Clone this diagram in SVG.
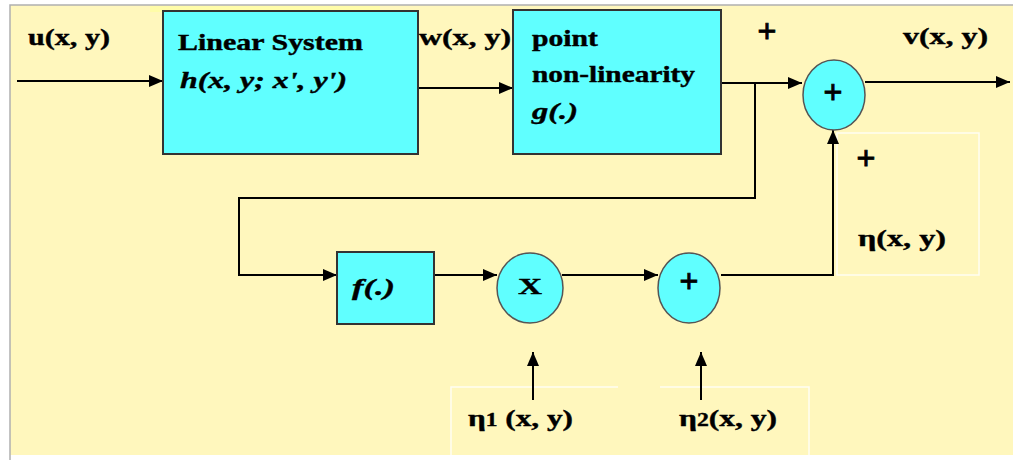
<svg xmlns="http://www.w3.org/2000/svg" width="1013" height="460" viewBox="0 0 1013 460">
<defs>
<marker id="arr" markerUnits="userSpaceOnUse" markerWidth="14" markerHeight="12" refX="14" refY="6" orient="auto">
<path d="M0,0 L14,6 L0,12 z" fill="#000"/>
</marker>
<style>
.bg{fill:#FFF7BD}
.box{fill:#60FFFF;stroke:#333;stroke-width:2}
.circ{fill:#60FFFF;stroke:#555;stroke-width:1.5}
.faint{fill:none;stroke:#FFFEF2;stroke-width:1.5}
.ln{fill:none;stroke:#000;stroke-width:2;marker-end:url(#arr)}
text{font-family:"Liberation Serif","Times New Roman",serif;font-weight:bold;font-size:24px;fill:#000;stroke:#000;stroke-width:0.4}
.it{font-style:italic}
.pl{font-size:34px;text-anchor:middle;stroke-width:0.8}
</style>
</defs>
<rect x="0" y="0" width="1013" height="460" fill="#fff"/>
<rect class="bg" x="10" y="5" width="1003" height="450"/>
<rect x="150" y="6" width="230" height="6" fill="#FFFCA8"/>
<path d="M10,460 V5 H1013" fill="none" stroke="#B0B0B0" stroke-width="1.5"/>
<g id="faint-boxes">
<rect class="faint" x="837" y="133" width="142" height="142"/>
<path class="faint" d="M451,455 V387 H618"/>
<path class="faint" d="M660,387 H809 V455"/>
</g>
<g id="connectors">
<path class="ln" d="M17,81 H163"/>
<path class="ln" d="M418,88 H513"/>
<path class="ln" d="M721,83 H802"/>
<path class="ln" d="M865,82 H1010"/>
<path class="ln" d="M755,83 V198 H239 V275 H337"/>
<path class="ln" d="M434,275 H497"/>
<path class="ln" d="M562,275 H658"/>
<path class="ln" d="M721,275 H833 V130"/>
<path class="ln" d="M533,400 V352"/>
<path class="ln" d="M701,400 V352"/>
</g>
<g id="linear-system">
<rect class="box" x="163" y="11" width="255" height="143"/>
<text x="178" y="50" textLength="185" lengthAdjust="spacingAndGlyphs">Linear System</text>
<text class="it" x="180" y="88" textLength="167" lengthAdjust="spacingAndGlyphs">h(x, y; x', y')</text>
</g>
<g id="point-nonlinearity">
<rect class="box" x="513" y="10" width="208" height="144"/>
<text x="532" y="46" textLength="66" lengthAdjust="spacingAndGlyphs">point</text>
<text x="532" y="82" textLength="163" lengthAdjust="spacingAndGlyphs">non-linearity</text>
<text class="it" x="532" y="119" textLength="46" lengthAdjust="spacingAndGlyphs">g(.)</text>
</g>
<g id="sum-main">
<ellipse class="circ" cx="834" cy="95" rx="31" ry="35"/>
<text class="pl" x="833" y="103">+</text>
</g>
<g id="f-block">
<rect class="box" x="337" y="252" width="97" height="72"/>
<text class="it" x="352" y="295" textLength="43" lengthAdjust="spacingAndGlyphs">f(.)</text>
</g>
<g id="mult">
<ellipse class="circ" cx="530" cy="288" rx="33" ry="35"/>
<text x="518" y="294" font-size="26" textLength="24" lengthAdjust="spacingAndGlyphs">X</text>
</g>
<g id="sum-small">
<ellipse class="circ" cx="689" cy="288" rx="31" ry="35"/>
<text class="pl" x="689" y="292">+</text>
</g>
<g id="labels">
<text x="28" y="45" textLength="82" lengthAdjust="spacingAndGlyphs">u(x, y)</text>
<text x="419" y="45" textLength="92" lengthAdjust="spacingAndGlyphs">w(x, y)</text>
<text x="903" y="44" textLength="85" lengthAdjust="spacingAndGlyphs">v(x, y)</text>
<text class="pl" x="767" y="42">+</text>
<text class="pl" x="866" y="169">+</text>
<text x="858" y="246" textLength="88" lengthAdjust="spacingAndGlyphs">η(x, y)</text>
<text x="468" y="426" textLength="105" lengthAdjust="spacingAndGlyphs">η<tspan font-size="18">1</tspan> (x, y)</text>
<text x="679" y="426" textLength="98" lengthAdjust="spacingAndGlyphs">η<tspan font-size="18">2</tspan>(x, y)</text>
</g>
</svg>
